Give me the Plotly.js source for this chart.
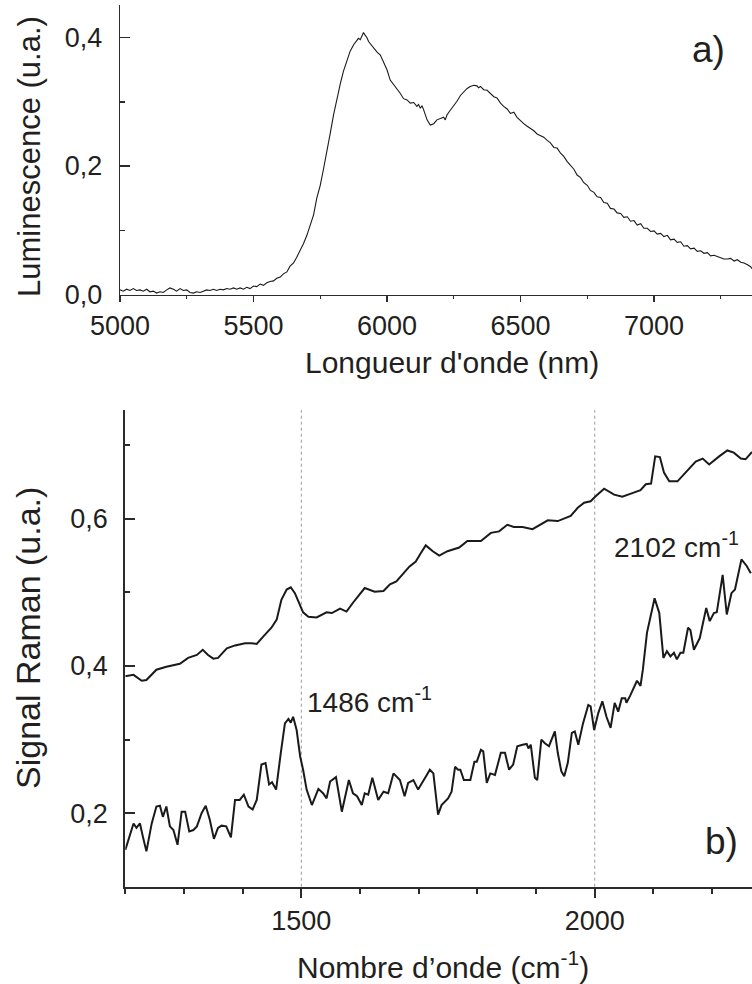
<!DOCTYPE html>
<html>
<head>
<meta charset="utf-8">
<script src="https://cdn.plot.ly/plotly-3.0.1.min.js"></script>
<style>
html,body{margin:0;padding:0;background:#fff;}
#chart{width:752px;height:984px;}
</style>
</head>
<body>
<div id="chart"></div>
<script>
// ---- Panel a) luminescence spectrum ----
const wavelength = [
5000,5012,5025,5037,5050,5062,5075,5087,5100,5112,5125,5137,5150,5162,5175,5187,5200,5212,5225,5237,
5250,5262,5275,5287,5300,5312,5325,5337,5350,5362,5375,5387,5400,5412,5425,5437,5450,5462,5475,5487,
5500,5512,5525,5537,5550,5562,5575,5587,5600,5612,5625,5637,5650,5662,5675,5687,5700,5712,5725,5737,
5750,5762,5775,5787,5800,5812,5825,5837,5850,5862,5875,5887,5893,5900,5906,5912,5918,5925,5931,5937,
5950,5962,5975,5987,6000,6012,6025,6037,6050,6062,6075,6087,6100,6112,6118,6125,6131,6137,6150,6162,
6175,6187,6200,6212,6218,6225,6237,6250,6262,6275,6287,6300,6312,6325,6337,6343,6350,6362,6375,6387,
6400,6412,6425,6437,6450,6462,6475,6487,6500,6512,6525,6537,6550,6562,6575,6587,6600,6612,6625,6637,
6650,6662,6675,6687,6700,6712,6725,6737,6750,6762,6775,6787,6800,6812,6825,6837,6850,6862,6875,6887,
6900,6912,6925,6937,6950,6962,6975,6987,7000,7012,7025,7037,7050,7062,7075,7087,7100,7112,7125,7137,
7150,7162,7175,7187,7200,7212,7225,7237,7250,7262,7275,7287,7300,7312,7325,7337,7350,7362,7367
];
const luminescence = [
0.007,0.005,0.008,0.006,0.009,0.006,0.007,0.005,0.008,0.004,0.005,0.002,0.004,0.003,0.007,0.010,0.008,0.005,0.009,0.006,
0.007,0.003,0.002,0.004,0.003,0.005,0.007,0.006,0.008,0.006,0.008,0.007,0.009,0.008,0.010,0.008,0.010,0.008,0.011,0.009,
0.013,0.012,0.016,0.014,0.018,0.020,0.021,0.025,0.027,0.032,0.035,0.044,0.049,0.058,0.068,0.079,0.092,0.106,0.124,0.150,
0.170,0.195,0.222,0.250,0.280,0.305,0.328,0.348,0.365,0.379,0.389,0.395,0.399,0.397,0.402,0.408,0.404,0.400,0.394,0.391,
0.383,0.378,0.373,0.363,0.350,0.334,0.327,0.320,0.313,0.305,0.303,0.298,0.299,0.293,0.296,0.290,0.294,0.288,0.272,0.264,
0.266,0.272,0.274,0.276,0.272,0.280,0.287,0.294,0.301,0.310,0.316,0.321,0.324,0.326,0.325,0.322,0.324,0.319,0.318,0.313,
0.308,0.306,0.298,0.293,0.289,0.282,0.284,0.276,0.270,0.266,0.262,0.259,0.255,0.250,0.248,0.245,0.240,0.236,0.229,0.228,
0.220,0.215,0.207,0.201,0.195,0.186,0.182,0.174,0.170,0.162,0.159,0.152,0.151,0.143,0.142,0.134,0.133,0.127,0.126,0.120,
0.121,0.114,0.115,0.108,0.110,0.103,0.103,0.098,0.099,0.094,0.095,0.090,0.092,0.085,0.086,0.081,0.082,0.075,0.076,0.071,
0.072,0.067,0.068,0.064,0.065,0.060,0.061,0.059,0.057,0.055,0.055,0.056,0.052,0.054,0.050,0.049,0.046,0.043,0.040
];

// ---- Panel b) Raman spectra ----
const ramanUpperX = [
1200,1214,1228,1236,1253,1270,1293,1307,1322,1332,1341,1350,1358,1373,1387,1404,1415,1424,1435,1449,
1458,1466,1475,1482,1489,1498,1503,1512,1526,1543,1552,1566,1577,1588,1608,1625,1640,1651,1662,1684,
1695,1704,1712,1724,1735,1749,1769,1783,1806,1823,1837,1851,1862,1877,1894,1920,1937,1959,1971,1982,
1993,2002,2016,2033,2047,2064,2078,2087,2096,2103,2111,2118,2127,2141,2155,2172,2184,2195,2212,2226,
2237,2249,2257,2268
];
const ramanUpperY = [
0.386,0.388,0.380,0.381,0.395,0.399,0.403,0.411,0.415,0.422,0.415,0.410,0.411,0.424,0.428,0.431,0.431,0.430,0.440,0.452,
0.463,0.490,0.504,0.507,0.499,0.481,0.473,0.467,0.466,0.473,0.472,0.478,0.474,0.486,0.506,0.501,0.502,0.511,0.515,0.535,
0.542,0.554,0.564,0.556,0.550,0.556,0.561,0.570,0.570,0.581,0.583,0.592,0.589,0.589,0.586,0.598,0.597,0.604,0.615,0.622,
0.624,0.631,0.641,0.633,0.630,0.635,0.639,0.647,0.648,0.685,0.684,0.663,0.651,0.651,0.663,0.678,0.682,0.674,0.685,0.693,
0.690,0.682,0.681,0.691
];
const ramanLowerX = [
1200,1205,1214,1219,1225,1230,1236,1245,1253,1259,1264,1270,1276,1282,1289,1296,1302,1309,1316,1322,
1330,1337,1344,1351,1358,1364,1372,1380,1387,1395,1402,1410,1417,1424,1432,1439,1445,1450,1457,1465,
1472,1478,1482,1486,1492,1498,1503,1509,1518,1529,1537,1543,1549,1559,1569,1581,1588,1595,1603,1608,
1614,1621,1631,1640,1648,1657,1668,1676,1682,1691,1699,1711,1719,1725,1733,1739,1750,1756,1762,1767,
1771,1777,1788,1795,1799,1806,1810,1816,1822,1830,1840,1847,1854,1861,1868,1877,1884,1887,1891,1898,
1902,1909,1915,1922,1932,1937,1943,1948,1954,1961,1966,1972,1980,1989,1993,1999,2006,2013,2020,2027,
2034,2040,2046,2052,2054,2060,2067,2072,2078,2082,2089,2095,2102,2110,2117,2123,2129,2135,2140,2146,
2151,2159,2163,2169,2179,2190,2196,2203,2208,2218,2225,2233,2239,2250,2259,2266
];
const ramanLowerY = [
0.150,0.164,0.186,0.180,0.186,0.168,0.148,0.186,0.209,0.210,0.195,0.209,0.182,0.177,0.157,0.202,0.202,0.175,0.177,0.182,
0.200,0.210,0.191,0.165,0.180,0.183,0.182,0.167,0.218,0.218,0.225,0.209,0.205,0.218,0.266,0.268,0.239,0.242,0.232,0.282,
0.322,0.328,0.323,0.331,0.313,0.277,0.259,0.232,0.211,0.233,0.227,0.220,0.243,0.249,0.202,0.245,0.227,0.223,0.211,0.227,
0.225,0.248,0.218,0.229,0.227,0.254,0.245,0.223,0.241,0.245,0.232,0.248,0.259,0.254,0.198,0.211,0.220,0.229,0.263,0.259,
0.259,0.245,0.245,0.270,0.270,0.286,0.284,0.241,0.254,0.252,0.282,0.282,0.259,0.266,0.291,0.293,0.294,0.288,0.293,0.248,
0.245,0.300,0.295,0.291,0.311,0.282,0.257,0.250,0.268,0.309,0.311,0.293,0.322,0.347,0.345,0.313,0.336,0.352,0.331,0.316,
0.350,0.338,0.356,0.356,0.350,0.359,0.372,0.380,0.373,0.395,0.445,0.467,0.492,0.472,0.411,0.420,0.413,0.418,0.409,0.418,
0.418,0.452,0.449,0.422,0.438,0.479,0.461,0.472,0.473,0.524,0.470,0.499,0.504,0.545,0.536,0.526
];
const guideLines = [1500, 2000];
const peakLabels = ['1486 cm<sup>-1</sup>', '2102 cm<sup>-1</sup>'];

// ---- layout helpers (pixel -> paper) ----
const W = 752, H = 984;
const fx = p => p / W;
const fy = p => 1 - p / H;
const ink = '#231f20';
const axc = '#2b2b2b';
const FONT = 'Liberation Sans, Arial, Helvetica, sans-serif';

const traces = [
  {x: wavelength, y: luminescence, xaxis: 'x', yaxis: 'y', type: 'scatter', mode: 'lines',
   line: {color: '#1a1a1a', width: 1.1}, hoverinfo: 'skip'},
  {x: ramanUpperX, y: ramanUpperY, xaxis: 'x2', yaxis: 'y2', type: 'scatter', mode: 'lines',
   line: {color: '#1a1a1a', width: 2}, hoverinfo: 'skip'},
  {x: ramanLowerX, y: ramanLowerY, xaxis: 'x2', yaxis: 'y2', type: 'scatter', mode: 'lines',
   line: {color: '#1a1a1a', width: 2}, hoverinfo: 'skip'}
];

const common = {showgrid: false, zeroline: false, showline: true, color: ink,
  tickfont: {family: FONT, size: 27, color: ink}, fixedrange: true};

const layout = {
  width: W, height: H,
  margin: {l: 0, r: 0, t: 0, b: 0, pad: 0},
  paper_bgcolor: '#fff', plot_bgcolor: '#fff',
  showlegend: false,
  separators: ', ',
  font: {family: FONT, color: ink},
  xaxis: Object.assign({}, common, {
    domain: [fx(120), 1], range: [5000, 7367], anchor: 'y',
    linecolor: axc, linewidth: 1.3,
    ticks: 'outside', ticklen: 6, tickwidth: 1.3, tickcolor: axc,
    tick0: 0, dtick: 500, ticklabelstandoff: 0,
    minor: {dtick: 250, ticks: 'outside', ticklen: 3, tickwidth: 1.3, tickcolor: axc}
  }),
  xaxis3: {
    overlaying: 'x', anchor: 'y', side: 'top', range: [5000, 7367],
    showgrid: false, zeroline: false, showline: true, linecolor: axc, linewidth: 1.3,
    ticks: 'inside', ticklen: 3, tickwidth: 1.3, tickcolor: axc, tick0: 0, dtick: 250,
    showticklabels: false, fixedrange: true
  },
  yaxis: Object.assign({}, common, {
    domain: [fy(295), fy(5)], range: [-0.001, 0.451], anchor: 'x',
    linecolor: axc, linewidth: 1.3,
    ticks: 'inside', ticklen: 10, tickwidth: 1.3, tickcolor: axc,
    tick0: 0, dtick: 0.2, tickformat: '.1f', ticklabelstandoff: 11,
    minor: {dtick: 0.1, ticks: 'inside', ticklen: 5, tickwidth: 1.3, tickcolor: axc}
  }),
  xaxis2: Object.assign({}, common, {
    domain: [fx(125.3), 1], range: [1200, 2268], anchor: 'y2',
    linecolor: axc, linewidth: 2,
    ticks: 'outside', ticklen: 9, tickwidth: 2, tickcolor: axc,
    tick0: 0, dtick: 500, ticklabelstandoff: 0,
    minor: {dtick: 100, ticks: 'outside', ticklen: 5, tickwidth: 2, tickcolor: axc}
  }),
  xaxis4: {
    overlaying: 'x2', anchor: 'y2', side: 'top', range: [1200, 2268],
    showgrid: false, zeroline: false, showline: true, linecolor: axc, linewidth: 2,
    ticks: 'inside', ticklen: 7, tickwidth: 2, tickcolor: axc, tick0: 0, dtick: 500,
    minor: {dtick: 100, ticks: 'inside', ticklen: 4, tickwidth: 2, tickcolor: axc},
    showticklabels: false, fixedrange: true
  },
  yaxis2: Object.assign({}, common, {
    domain: [fy(886.7), fy(410)], range: [0.1, 0.748], anchor: 'x2',
    linecolor: axc, linewidth: 2,
    ticks: 'inside', ticklen: 10, tickwidth: 2, tickcolor: axc,
    tick0: 0, dtick: 0.2, tickformat: '.1f', ticklabelstandoff: 10,
    minor: {dtick: 0.1, ticks: 'inside', ticklen: 5, tickwidth: 2, tickcolor: axc}
  }),
  shapes: guideLines.map(v => ({
    type: 'line', xref: 'x2', yref: 'y2 domain', x0: v, x1: v, y0: 0, y1: 1,
    line: {color: '#9a9a9a', width: 1, dash: 'dot'}, layer: 'below'
  })),
  annotations: [
    {text: "Longueur d'onde (nm)", xref: 'paper', yref: 'paper', x: fx(452), y: fy(362),
     showarrow: false, xanchor: 'center', yanchor: 'middle', font: {size: 30, color: ink}},
    {text: 'Luminescence (u.a.)', xref: 'paper', yref: 'paper', x: fx(29), y: fy(157),
     showarrow: false, textangle: -90, xanchor: 'center', yanchor: 'middle', font: {size: 31, color: ink}},
    {text: 'Signal Raman (u.a.)', xref: 'paper', yref: 'paper', x: fx(28), y: fy(638),
     showarrow: false, textangle: -90, xanchor: 'center', yanchor: 'middle', font: {size: 34, color: ink}},
    {text: 'Nombre d\u2019onde (cm<sup>-1</sup>)', xref: 'paper', yref: 'paper', x: fx(443), y: fy(965),
     showarrow: false, xanchor: 'center', yanchor: 'middle', font: {size: 30, color: ink}},
    {text: 'a)', xref: 'paper', yref: 'paper', x: fx(708), y: fy(50),
     showarrow: false, xanchor: 'center', yanchor: 'middle', font: {size: 37, color: ink}},
    {text: 'b)', xref: 'paper', yref: 'paper', x: fx(721), y: fy(841),
     showarrow: false, xanchor: 'center', yanchor: 'middle', font: {size: 37, color: ink}},
    {text: peakLabels[0], xref: 'paper', yref: 'paper', x: fx(305), y: fy(700),
     showarrow: false, xanchor: 'left', yanchor: 'middle', font: {size: 28, color: ink}},
    {text: peakLabels[1], xref: 'paper', yref: 'paper', x: fx(612), y: fy(545),
     showarrow: false, xanchor: 'left', yanchor: 'middle', font: {size: 28, color: ink}}
  ]
};

Plotly.newPlot('chart', traces, layout, {staticPlot: true, displayModeBar: false});
</script>
</body>
</html>
